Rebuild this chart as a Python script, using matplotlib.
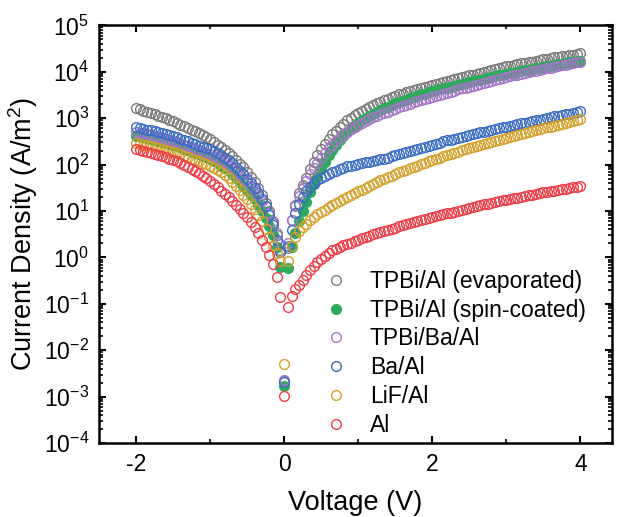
import numpy as np
import matplotlib
matplotlib.use("Agg")
import matplotlib.pyplot as plt
from matplotlib.ticker import LogLocator, MultipleLocator, NullFormatter

plt.rcParams['font.family'] = ['Liberation Sans', 'DejaVu Sans']
plt.rcParams['mathtext.fontset'] = 'custom'
plt.rcParams['mathtext.rm'] = 'Liberation Sans'
plt.rcParams['mathtext.it'] = 'Liberation Sans:italic'
plt.rcParams['mathtext.bf'] = 'Liberation Sans:bold'
plt.rcParams['axes.unicode_minus'] = False

# voltage sweep -2 V .. 4 V, 0.05 V steps
voltage = np.round(np.arange(-2.0, 4.0001, 0.05), 2)

# log10 of current density (A/m^2)
logj_evap = [
    3.21, 3.19, 3.16, 3.14, 3.11, 3.08, 3.05, 3.03, 3.00, 2.97,
    2.93, 2.90, 2.86, 2.83, 2.79, 2.75, 2.72, 2.68, 2.64, 2.60,
    2.55, 2.49, 2.43, 2.37, 2.31, 2.25, 2.18, 2.10, 2.02, 1.94,
    1.85, 1.74, 1.62, 1.49, 1.35, 1.18, 1.00, 0.75, 0.48, 0.15,
    -2.66,
    0.20, 0.80, 1.12, 1.38, 1.55, 1.72, 1.90, 2.06, 2.20, 2.33,
    2.45, 2.56, 2.65, 2.73, 2.81, 2.88, 2.95, 3.01, 3.06, 3.11,
    3.15, 3.20, 3.24, 3.28, 3.32, 3.35, 3.39, 3.42, 3.45, 3.48,
    3.51, 3.53, 3.56, 3.58, 3.61, 3.63, 3.65, 3.68, 3.70, 3.72,
    3.74, 3.76, 3.78, 3.80, 3.82, 3.84, 3.86, 3.88, 3.90, 3.92,
    3.94, 3.96, 3.98, 4.00, 4.02, 4.04, 4.06, 4.08, 4.10, 4.12,
    4.13, 4.15, 4.16, 4.18, 4.19, 4.21, 4.22, 4.24, 4.25, 4.27,
    4.28, 4.29, 4.31, 4.32, 4.33, 4.35, 4.36, 4.37, 4.39, 4.40,
]
logj_spin = [
    2.62, 2.61, 2.59, 2.57, 2.55, 2.53, 2.51, 2.49, 2.47, 2.45,
    2.42, 2.40, 2.37, 2.34, 2.31, 2.28, 2.25, 2.22, 2.19, 2.16,
    2.12, 2.08, 2.03, 1.98, 1.93, 1.88, 1.80, 1.72, 1.63, 1.54,
    1.45, 1.35, 1.25, 1.13, 1.00, 0.85, 0.68, 0.48, 0.22, -0.20,
    -2.77,
    -0.22, 0.22, 0.52, 0.78, 1.00, 1.20, 1.40, 1.58, 1.74, 1.90,
    2.05, 2.20, 2.32, 2.43, 2.53, 2.62, 2.70, 2.77, 2.84, 2.90,
    2.95, 3.00, 3.05, 3.10, 3.14, 3.18, 3.21, 3.25, 3.28, 3.32,
    3.35, 3.38, 3.40, 3.43, 3.46, 3.48, 3.51, 3.53, 3.56, 3.58,
    3.60, 3.62, 3.64, 3.66, 3.68, 3.70, 3.72, 3.74, 3.76, 3.78,
    3.80, 3.82, 3.83, 3.85, 3.87, 3.88, 3.90, 3.92, 3.93, 3.95,
    3.97, 3.98, 4.00, 4.01, 4.03, 4.04, 4.06, 4.07, 4.09, 4.10,
    4.12, 4.13, 4.14, 4.16, 4.17, 4.19, 4.20, 4.21, 4.23, 4.24,
]
logj_tpbi_ba = [
    2.70, 2.69, 2.67, 2.65, 2.63, 2.61, 2.59, 2.57, 2.55, 2.53,
    2.50, 2.48, 2.45, 2.42, 2.39, 2.37, 2.34, 2.31, 2.28, 2.25,
    2.22, 2.18, 2.14, 2.10, 2.05, 2.00, 1.93, 1.86, 1.78, 1.70,
    1.62, 1.54, 1.45, 1.34, 1.22, 1.10, 0.95, 0.78, 0.52, 0.28,
    -2.64,
    0.30, 0.80, 1.10, 1.32, 1.50, 1.65, 1.79, 1.92, 2.04, 2.15,
    2.25, 2.35, 2.43, 2.51, 2.58, 2.65, 2.70, 2.76, 2.81, 2.86,
    2.90, 2.94, 2.98, 3.02, 3.05, 3.08, 3.11, 3.14, 3.17, 3.20,
    3.23, 3.26, 3.29, 3.31, 3.34, 3.36, 3.39, 3.41, 3.44, 3.46,
    3.48, 3.50, 3.53, 3.55, 3.57, 3.59, 3.62, 3.64, 3.66, 3.68,
    3.70, 3.72, 3.74, 3.76, 3.78, 3.80, 3.82, 3.84, 3.86, 3.88,
    3.90, 3.92, 3.93, 3.95, 3.97, 3.99, 4.01, 4.02, 4.04, 4.06,
    4.07, 4.09, 4.11, 4.12, 4.14, 4.15, 4.17, 4.19, 4.20, 4.22,
]
logj_ba = [
    2.80, 2.79, 2.77, 2.75, 2.74, 2.72, 2.70, 2.68, 2.66, 2.64,
    2.62, 2.59, 2.56, 2.53, 2.50, 2.47, 2.44, 2.41, 2.38, 2.36,
    2.33, 2.29, 2.25, 2.20, 2.15, 2.10, 2.03, 1.95, 1.87, 1.79,
    1.70, 1.61, 1.50, 1.39, 1.26, 1.10, 0.92, 0.70, 0.38, 0.12,
    -2.68,
    0.25, 0.58, 0.95, 1.16, 1.31, 1.43, 1.52, 1.60, 1.66, 1.71,
    1.76, 1.80, 1.84, 1.87, 1.90, 1.93, 1.96, 1.98, 2.00, 2.02,
    2.03, 2.05, 2.06, 2.08, 2.09, 2.11, 2.12, 2.14, 2.18, 2.21,
    2.23, 2.25, 2.27, 2.29, 2.31, 2.33, 2.35, 2.38, 2.40, 2.43,
    2.45, 2.47, 2.50, 2.52, 2.54, 2.56, 2.58, 2.60, 2.62, 2.64,
    2.66, 2.68, 2.70, 2.71, 2.73, 2.75, 2.77, 2.78, 2.80, 2.82,
    2.84, 2.85, 2.87, 2.89, 2.90, 2.92, 2.94, 2.95, 2.97, 2.99,
    3.00, 3.02, 3.04, 3.05, 3.07, 3.09, 3.10, 3.12, 3.13, 3.15,
]
logj_lif = [
    2.46, 2.45, 2.43, 2.42, 2.40, 2.38, 2.36, 2.34, 2.32, 2.30,
    2.28, 2.25, 2.22, 2.19, 2.16, 2.13, 2.10, 2.07, 2.04, 2.01,
    1.98, 1.93, 1.88, 1.83, 1.78, 1.72, 1.63, 1.54, 1.45, 1.35,
    1.25, 1.15, 1.05, 0.92, 0.78, 0.62, 0.45, 0.25, 0.10, -0.07,
    -2.29,
    -0.07, 0.25, 0.45, 0.56, 0.65, 0.72, 0.80, 0.87, 0.93, 0.98,
    1.03, 1.08, 1.13, 1.17, 1.22, 1.26, 1.30, 1.34, 1.38, 1.42,
    1.46, 1.50, 1.54, 1.58, 1.62, 1.66, 1.69, 1.73, 1.76, 1.80,
    1.83, 1.86, 1.89, 1.92, 1.95, 1.98, 2.01, 2.04, 2.07, 2.10,
    2.13, 2.15, 2.18, 2.21, 2.23, 2.26, 2.28, 2.31, 2.33, 2.36,
    2.38, 2.40, 2.42, 2.44, 2.46, 2.49, 2.51, 2.53, 2.55, 2.57,
    2.59, 2.61, 2.63, 2.65, 2.67, 2.70, 2.72, 2.74, 2.76, 2.78,
    2.80, 2.82, 2.84, 2.86, 2.88, 2.90, 2.92, 2.94, 2.96, 2.98,
]
logj_al = [
    2.33, 2.31, 2.29, 2.27, 2.25, 2.23, 2.21, 2.18, 2.16, 2.13,
    2.10, 2.07, 2.03, 1.99, 1.95, 1.91, 1.86, 1.81, 1.76, 1.71,
    1.65, 1.58, 1.51, 1.44, 1.37, 1.30, 1.21, 1.12, 1.04, 0.95,
    0.86, 0.76, 0.66, 0.53, 0.38, 0.22, 0.05, -0.15, -0.42, -0.85,
    -2.98,
    -1.06, -0.83, -0.69, -0.59, -0.49, -0.38, -0.28, -0.19, -0.10, -0.03,
    0.04, 0.10, 0.15, 0.19, 0.23, 0.26, 0.29, 0.32, 0.35, 0.38,
    0.41, 0.44, 0.47, 0.50, 0.52, 0.55, 0.57, 0.60, 0.62, 0.64,
    0.67, 0.69, 0.71, 0.74, 0.76, 0.78, 0.80, 0.83, 0.85, 0.87,
    0.89, 0.91, 0.93, 0.95, 0.96, 0.98, 1.00, 1.02, 1.04, 1.06,
    1.08, 1.10, 1.12, 1.14, 1.16, 1.18, 1.19, 1.21, 1.23, 1.24,
    1.26, 1.28, 1.29, 1.31, 1.32, 1.34, 1.35, 1.37, 1.38, 1.40,
    1.41, 1.43, 1.44, 1.46, 1.47, 1.48, 1.50, 1.51, 1.52, 1.53,
]

labels = ["TPBi/Al (evaporated)", "TPBi/Al (spin-coated)", "TPBi/Ba/Al",
          "Ba/Al", "LiF/Al", "Al"]
series = [logj_evap, logj_spin, logj_tpbi_ba, logj_ba, logj_lif, logj_al]
colors = ["#7a7a7a", "#2eaa5c", "#a475c8", "#3a6cc4", "#d4a02a", "#f03c46"]
filled = [False, True, False, False, False, False]

fig = plt.figure(figsize=(6.19, 5.17), dpi=100)
ax = fig.add_axes([0.160, 0.143, 0.829, 0.808])

for logj, lab, col, fill in zip(series, labels, colors, filled):
    ax.plot(voltage, 10 ** np.array(logj), 'o', ms=7, mew=1.0,
            mec=col, mfc=col if fill else 'none', label=lab)

ax.set_yscale('log')
ax.set_ylim(1e-4, 1e5)
ax.set_xlim(-2.5, 4.43)
ax.xaxis.set_major_locator(MultipleLocator(2))
ax.xaxis.set_minor_locator(MultipleLocator(1))
ax.yaxis.set_major_locator(LogLocator(base=10, numticks=20))
ax.yaxis.set_minor_locator(LogLocator(base=10, subs=np.arange(2, 10), numticks=20))
ax.yaxis.set_minor_formatter(NullFormatter())

ax.tick_params(which='both', direction='in', top=True, right=True, labelsize=16.5)
ax.tick_params(which='major', length=5, width=1.5, pad=7)
ax.tick_params(which='minor', length=3, width=1.2)
for sp in ax.spines.values():
    sp.set_linewidth(1.8)

ax.set_xlabel("Voltage (V)", fontsize=19.5, labelpad=10)
ax.set_ylabel("Current Density (A/m$^2$)", fontsize=19.5, labelpad=3)

ax.legend(loc='upper left', bbox_to_anchor=(325 / 619, 1 - 270 / 517),
          bbox_transform=fig.transFigure, frameon=False, fontsize=16.5,
          handlelength=1.0, handletextpad=0.95, labelspacing=0.25,
          borderpad=0, borderaxespad=0, numpoints=1)

fig.savefig("out.png", dpi=100)
